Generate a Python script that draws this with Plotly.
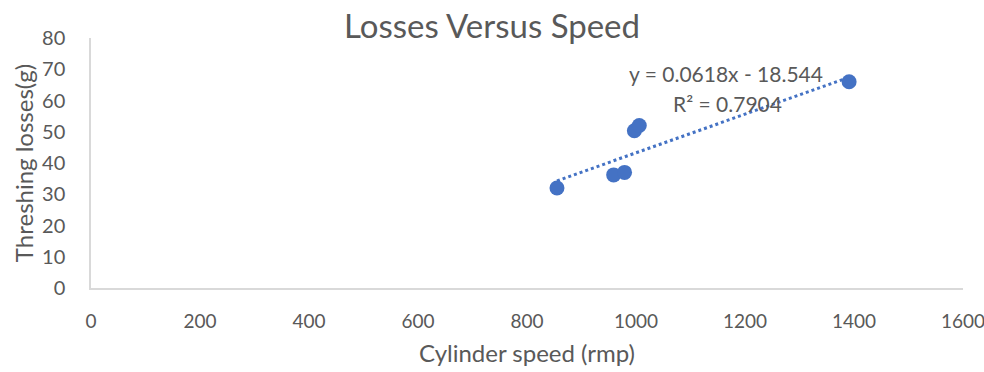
import plotly.graph_objects as go

speed = [855, 959, 979, 997, 1006, 1391]
losses = [32.0, 36.2, 37.0, 50.3, 52.0, 66.0]
slope = 0.0618
intercept = -18.544
r2_text = "R² = 0.7904"
eq_text = "y = 0.0618x - 18.544"

xticks = [0, 200, 400, 600, 800, 1000, 1200, 1400, 1600]
yticks = [0, 10, 20, 30, 40, 50, 60, 70, 80]

BLUE = "#4472C4"
GREY = "#595959"
FONT = "Lato"

x_fit = [min(speed), max(speed)]
y_fit = [slope * v + intercept for v in x_fit]

fig = go.Figure()
fig.add_trace(go.Scatter(x=x_fit, y=y_fit, mode="lines",
                         line=dict(color=BLUE, width=3, dash="dot"),
                         showlegend=False, hoverinfo="skip"))
fig.add_trace(go.Scatter(x=speed, y=losses, mode="markers",
                         marker=dict(color=BLUE, size=15), showlegend=False))

fig.add_annotation(x=1165, y=68.8, xref="x", yref="y", text=eq_text,
                   showarrow=False, font=dict(family=FONT, size=21, color=GREY))
fig.add_annotation(x=1167, y=59.2, xref="x", yref="y", text=r2_text,
                   showarrow=False, font=dict(family=FONT, size=21, color=GREY))

fig.update_layout(
    width=984, height=372,
    margin=dict(l=91, r=21, t=38, b=84),
    paper_bgcolor="white", plot_bgcolor="white",
    font=dict(family=FONT, color=GREY),
    title=dict(text="Losses Versus Speed", x=0.5, xanchor="center",
               y=1 - 26 / 372, yanchor="middle",
               font=dict(family=FONT, size=33, color=GREY)),
    xaxis=dict(range=[0, 1600], tickvals=xticks, ticktext=[str(v) for v in xticks],
               showgrid=False, zeroline=False, showline=True, linecolor="#d9d9d9",
               linewidth=1.5, ticks="", tickfont=dict(size=19, color=GREY),
               ticklabelstandoff=15, automargin=False, ticklabeloverflow="allow",
               title=dict(text="Cylinder speed (rmp)", standoff=15,
                          font=dict(size=24, color=GREY))),
    yaxis=dict(range=[0, 80], tickvals=yticks, ticktext=[str(v) for v in yticks],
               showgrid=False, zeroline=False, showline=True, linecolor="#d9d9d9",
               linewidth=1.5, ticks="", tickfont=dict(size=20, color=GREY),
               ticklabelstandoff=20, automargin=False, ticklabeloverflow="allow",
               title=dict(text="Threshing losses(g)", standoff=2,
                          font=dict(size=24, color=GREY))),
)

fig.write_html(
    "out.html",
    config={"displayModeBar": False},
    post_script="document.body.style.margin='0';document.body.style.overflow='hidden';",
)
